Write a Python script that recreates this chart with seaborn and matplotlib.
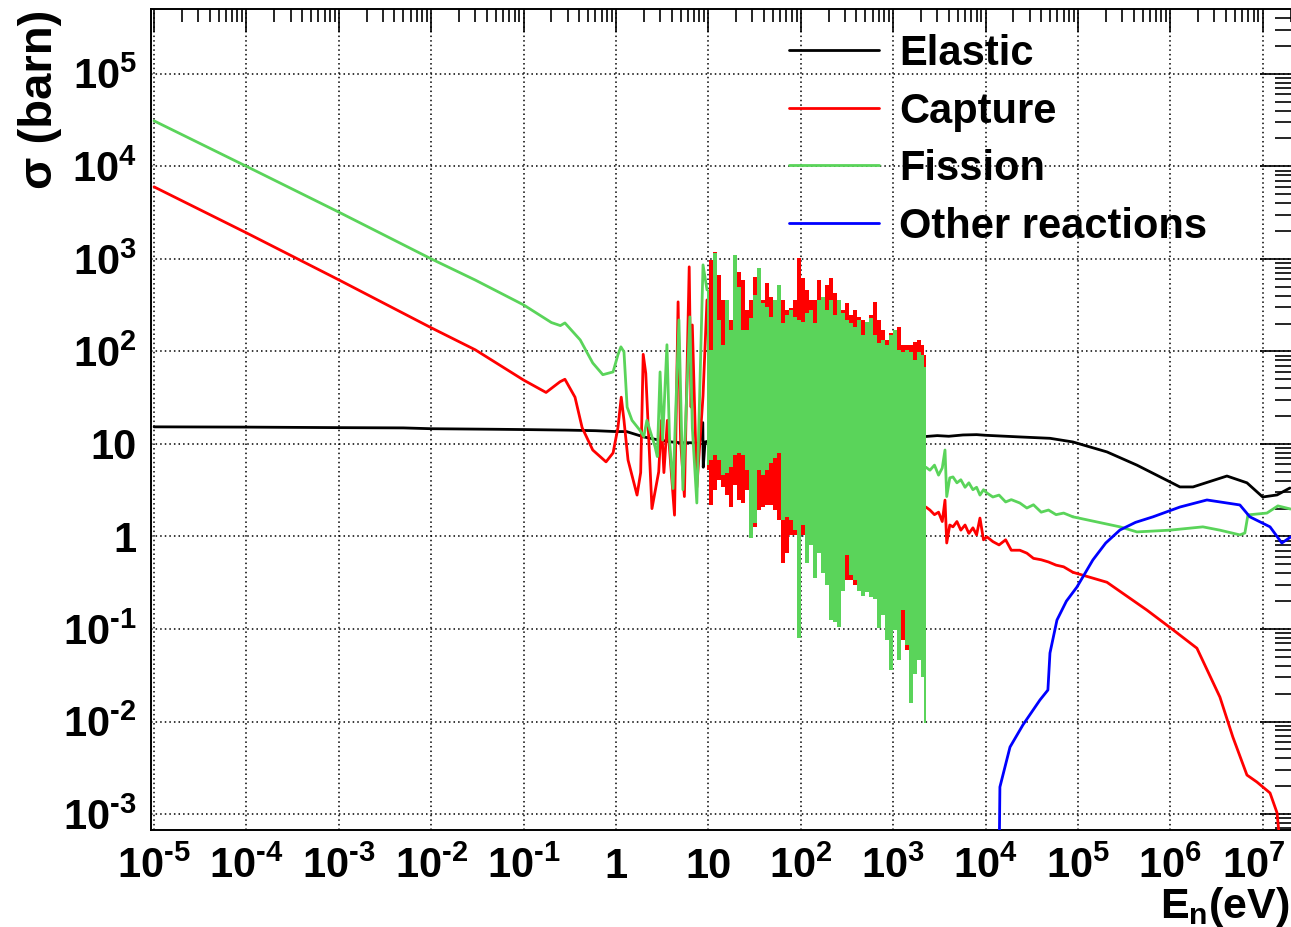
import numpy as np
import pandas as pd
import matplotlib
matplotlib.use('Agg')
import matplotlib.pyplot as plt
import matplotlib.transforms as mtransforms
import seaborn as sns
from matplotlib.ticker import LogLocator, NullFormatter

# ---- data (energies in eV, cross sections in barn) ----

# elastic
el_E = [1e-5, 1e-4, 1e-3, 5e-3, 0.01, 0.05, 0.1, 0.3, 0.6, 1.0, 1.3, 2.0, 2.8, 4.0, 5.0, 7.0, 8.0,
        8.7, 8.8, 9.2, 11, 12.6, 13.5, 20, 100, 1000, 1950, 3000, 4000, 5700, 8000, 10000, 23500,
        50000, 88300, 2.06e5, 4.35e5, 1.27e6, 1.76e6, 4.1e6, 6.75e6, 1.0e7, 1.43e7, 1.97e7]
el_sig = [15.3, 15.2, 15.0, 14.9, 14.6, 14.4, 14.3, 14.1, 13.9, 13.6, 13.6, 11.9, 11.1, 10.5, 10.3,
          10.3, 10.0, 17, 5.6, 10.5, 11, 7.5, 12, 12.5, 12.3, 12.0, 11.9, 12.3, 12.1, 12.5, 12.6,
          12.4, 11.9, 11.5, 10.5, 8.2, 5.9, 3.43, 3.43, 4.5, 3.8, 2.67, 2.81, 3.34]

# capture, thermal + resolved resonances
cap_E = [1e-5, 1e-4, 1e-3, 1e-2, 0.03, 0.1, 0.175, 0.248, 0.28, 0.36, 0.43, 0.56, 0.78, 0.93,
         1.05, 1.14, 1.22, 1.35, 1.69, 1.85, 1.97, 2.1, 2.45, 2.9, 3.1, 3.3, 3.6, 4.3, 4.7, 5.0,
         5.5, 6.2, 6.5, 6.7, 7.5, 8.75, 9.66]
cap_sig = [6000, 1910, 593, 180, 104, 49, 36, 47, 50, 32, 15, 8.6, 6.4, 8, 15, 32, 18, 6.7, 2.8,
           4.9, 93, 58, 2.0, 5, 18, 4.9, 18, 1.7, 343, 11, 2.7, 820, 25, 193, 3.4, 33, 360]

# fission, thermal + resolved resonances
fis_E = [1e-5, 1e-4, 1e-3, 1e-2, 0.03, 0.1, 0.2, 0.25, 0.28, 0.41, 0.56, 0.72, 0.93, 1.05, 1.13,
         1.22, 1.32, 1.49, 1.82, 2.0, 2.16, 2.64, 2.8, 3.0, 3.2, 3.56, 3.8, 4.14, 4.8, 5.3, 6.3,
         6.7, 7.5, 8.75, 9.66]
fis_sig = [3.1e4, 1.0e4, 3.2e3, 1.0e3, 590, 318, 205, 190, 203, 133, 75, 56, 60, 92, 112, 99, 25,
           18, 14, 12, 18, 9.4, 7.3, 60, 11, 118, 11, 3.3, 219, 3.2, 236, 15, 2.3, 861, 462]

# dense resonance region: upper / lower envelope of the traces
band_E = [9.66, 10.7, 11.8, 13.0, 14.4, 15.9, 17.6, 19.4, 21.4, 23.7, 26.2, 28.9, 31.9, 35.3,
          39.0, 43.1, 47.6, 52.6, 58.1, 64.2, 70.9, 78.3, 86.5, 95.7, 106, 117, 129, 143, 157,
          174, 192, 212, 235, 259, 286, 316, 349, 386, 427, 471, 520, 575, 635, 702, 776, 857,
          947, 1046, 1156, 1277, 1410, 1560, 1722, 1902, 2103, 2250]
fis_hi = [462, 104, 1161, 219, 118, 360, 171, 1105, 498, 171, 171, 230, 408, 800, 334, 303, 236,
          360, 524, 203, 248, 281, 236, 219, 208, 261, 281, 203, 360, 388, 281, 360, 248, 360,
          261, 219, 203, 184, 219, 151, 208, 230, 151, 124, 133, 118, 151, 171, 104, 99, 104,
          99, 81, 99, 92, 68]
fis_lo = [5.9, 6.7, 7.6, 6.7, 4.6, 4.9, 5.6, 7.6, 8.0, 7.6, 5.2, 0.96, 1.40, 5.2, 4.6, 5.2, 6.2,
          7.1, 8.0, 1.51, 1.63, 1.51, 1.17, 0.080, 1.33, 0.52, 0.81, 0.36, 0.66, 0.40, 0.30,
          0.125, 0.119, 0.105, 0.26, 0.63, 0.38, 0.34, 0.26, 0.23, 0.25, 0.22, 0.21, 0.103,
          0.14, 0.076, 0.036, 0.098, 0.046, 0.16, 0.067, 0.016, 0.033, 0.046, 0.030, 0.0096]
cap_hi = [360, 975, 1190, 671, 360, 343, 219, 360, 722, 593, 281, 360, 638, 462, 360, 551, 388,
          360, 498, 360, 281, 295, 360, 1025, 623, 462, 360, 360, 593, 360, 524, 623, 429, 360,
          281, 334, 248, 281, 236, 219, 203, 248, 343, 219, 171, 133, 158, 133, 184, 118, 118,
          118, 127, 133, 118, 92]
cap_lo = [5.2, 2.2, 3.2, 4.1, 3.4, 2.8, 2.1, 3.6, 2.5, 2.3, 3.2, 2.5, 1.27, 1.93, 2.1, 2.2, 2.2,
          1.93, 1.51, 0.52, 0.66, 1.04, 1.04, 1.51, 1.04, 0.66, 0.81, 0.66, 0.92, 0.81, 0.81,
          0.71, 0.56, 0.30, 0.28, 0.34, 0.34, 0.30, 0.31, 0.26, 0.26, 0.22, 0.23, 0.21, 0.16,
          0.125, 0.098, 0.098, 0.076, 0.076, 0.059, 0.059, 0.046, 0.046, 0.041, 0.028]

# unresolved + fast region
hi_E = [2260, 2500, 2800, 3100, 3400, 3640, 3800, 4100, 4440, 4900, 5400, 6000, 6600, 7300, 8000,
        8700, 9500, 10350, 12000, 14000, 16500, 19000, 23500, 28000, 33000, 40000, 48000, 58000,
        70000, 88300]
cap_hi_sig = [2.08, 1.93, 1.72, 1.83, 1.45, 2.47, 0.85, 1.33, 1.27, 1.45, 1.17, 1.33, 1.08, 1.24,
              1.04, 1.58, 0.92, 0.99, 0.88, 0.81, 0.92, 0.71, 0.71, 0.66, 0.58, 0.56, 0.53, 0.49,
              0.47, 0.41]
fis_hi_sig = [5.6, 5.2, 5.9, 4.6, 5.5, 8.6, 2.7, 4.3, 4.4, 3.8, 4.1, 3.4, 3.8, 3.2, 3.4, 2.8, 3.2,
              2.95, 2.67, 2.8, 2.36, 2.5, 2.3, 2.03, 2.2, 1.83, 1.93, 1.72, 1.79, 1.63]
cap_fast_E = [88300, 2.06e5, 5.58e5, 1.07e6, 1.94e6, 3.44e6, 4.75e6, 6.75e6, 8.65e6, 1.2e7,
              1.43e7, 1.53e7]
cap_fast_sig = [0.41, 0.32, 0.16, 0.098, 0.062, 0.0184, 0.0068, 0.00264, 0.00222, 0.00169,
                0.00103, 0.0005]
fis_fast_E = [88300, 2.85e5, 4.35e5, 9.9e5, 2.25e6, 3.44e6, 5.66e6, 6.41e6, 6.92e6, 1.11e7,
              1.46e7, 2.0e7]
fis_fast_sig = [1.63, 1.27, 1.12, 1.17, 1.27, 1.17, 1.04, 1.09, 1.71, 1.79, 2.14, 1.98]

# other reactions
oth_E = [14100, 14300, 18400, 25400, 38800, 47300, 49800, 59300, 75000, 97500, 1.45e5, 2.0e5,
         2.85e5, 4.2e5, 6.49e5, 1.27e6, 2.49e6, 5.66e6, 7.26e6, 1.2e7, 1.61e7, 2.02e7]
oth_sig = [5e-4, 0.00196, 0.0053, 0.0092, 0.0171, 0.0219, 0.055, 0.125, 0.2, 0.284, 0.557, 0.85,
           1.175, 1.42, 1.63, 2.08, 2.48, 2.19, 1.63, 1.27, 0.85, 0.99]

x_ticks = [1e-5, 1e-4, 1e-3, 1e-2, 1e-1, 1, 10, 1e2, 1e3, 1e4, 1e5, 1e6, 1e7]
x_labels = [r'$10^{\text{-}5}$', r'$10^{\text{-}4}$', r'$10^{\text{-}3}$', r'$10^{\text{-}2}$',
            r'$10^{\text{-}1}$', '1', '10', '$10^{2}$', '$10^{3}$', '$10^{4}$', '$10^{5}$',
            '$10^{6}$', '$10^{7}$']
y_ticks = [1e-3, 1e-2, 1e-1, 1, 10, 1e2, 1e3, 1e4, 1e5]
y_labels = [r'$10^{\text{-}3}$', r'$10^{\text{-}2}$', r'$10^{\text{-}1}$', '1', '10', '$10^{2}$',
            '$10^{3}$', '$10^{4}$', '$10^{5}$']

names = ['Elastic', 'Capture', 'Fission', 'Other reactions']
colors = ['black', '#ff0000', '#5ad45a', '#0000ff']

# ---- plotting ----
sns.set_theme(style='white')
plt.rcParams['font.family'] = ['Liberation Sans', 'DejaVu Sans']
plt.rcParams['font.weight'] = 'bold'
plt.rcParams['text.color'] = 'black'
plt.rcParams['xtick.color'] = 'black'
plt.rcParams['ytick.color'] = 'black'
plt.rcParams['mathtext.fontset'] = 'custom'
for k in ['rm', 'it', 'bf', 'sf']:
    plt.rcParams['mathtext.' + k] = 'Liberation Sans:bold'

fig = plt.figure(figsize=(12.91, 9.27), dpi=100)
ax = fig.add_axes([0.1167, 0.1046, 0.8837, 0.8853])
ax.set_xscale('log')
ax.set_yscale('log')

lw = 2.0


def line(x, y, c, z, label=None):
    df = pd.DataFrame({'E': x, 's': y})
    sns.lineplot(data=df, x='E', y='s', ax=ax, color=c, lw=lw, estimator=None, sort=False,
                 label=label, legend=False, zorder=z)


line(el_E, el_sig, colors[0], 3, names[0])

line(cap_E, cap_sig, colors[1], 4, names[1])
ax.fill_between(band_E, cap_lo, cap_hi, step='mid', color=colors[1], lw=0, zorder=4)
line(hi_E, cap_hi_sig, colors[1], 4)
line(cap_fast_E, cap_fast_sig, colors[1], 4)

line(fis_E, fis_sig, colors[2], 5, names[2])
ax.fill_between(band_E, fis_lo, fis_hi, step='mid', color=colors[2], lw=0, zorder=5)
line(hi_E, fis_hi_sig, colors[2], 5)
line(fis_fast_E, fis_fast_sig, colors[2], 5)

line(oth_E, oth_sig, colors[3], 6, names[3])

ax.set_xlim(9.19e-6, 2.05e7)
ax.set_ylim(6.72e-4, 4.97e5)
ax.set_xticks(x_ticks, labels=x_labels)
ax.set_yticks(y_ticks, labels=y_labels)
ax.xaxis.set_minor_locator(LogLocator(base=10, subs=np.arange(2, 10), numticks=100))
ax.yaxis.set_minor_locator(LogLocator(base=10, subs=np.arange(2, 10), numticks=100))
ax.xaxis.set_minor_formatter(NullFormatter())
ax.yaxis.set_minor_formatter(NullFormatter())
ax.set_xlabel('')
ax.set_ylabel('')

ax.tick_params(which='both', direction='in', top=True, right=True, color='black', width=1.2,
               labelcolor='black')
ax.tick_params(axis='x', which='major', length=16.5, labelsize=30, pad=12)
ax.tick_params(axis='x', which='minor', length=9.5)
ax.tick_params(axis='y', which='major', length=23, labelsize=30, pad=10)
ax.tick_params(axis='y', which='minor', length=12)
for s in ax.spines.values():
    s.set_color('black')
    s.set_linewidth(1.4)
ax.set_axisbelow(True)
ax.grid(True, which='major', color='black', linestyle=(0, (1, 2)), linewidth=1.1)

# last x label kept inside the frame, as in the original
last = ax.get_xticklabels()[-1]
last.set_transform(last.get_transform() +
                   mtransforms.ScaledTranslation(-0.09, 0, fig.dpi_scale_trans))

fig.text(40 / 1291, 1 - 10 / 927, 'σ (barn)', rotation=90, ha='center', va='top',
         fontsize=34, fontweight='bold', color='black')
fig.text(0.999, 1 - 918 / 927, '$E_{n}(eV)$', ha='right', va='baseline', fontsize=31,
         color='black')

h, l = ax.get_legend_handles_labels()
leg = ax.legend(h, l, loc='upper left', bbox_to_anchor=(789 / 1291, 1 - 34 / 927),
                bbox_transform=fig.transFigure, frameon=False, fontsize=30, handlelength=2.15,
                handletextpad=0.5, labelspacing=0.42, borderpad=0, borderaxespad=0)
for t in leg.get_texts():
    t.set_color('black')

fig.savefig('out.png', dpi=100)
